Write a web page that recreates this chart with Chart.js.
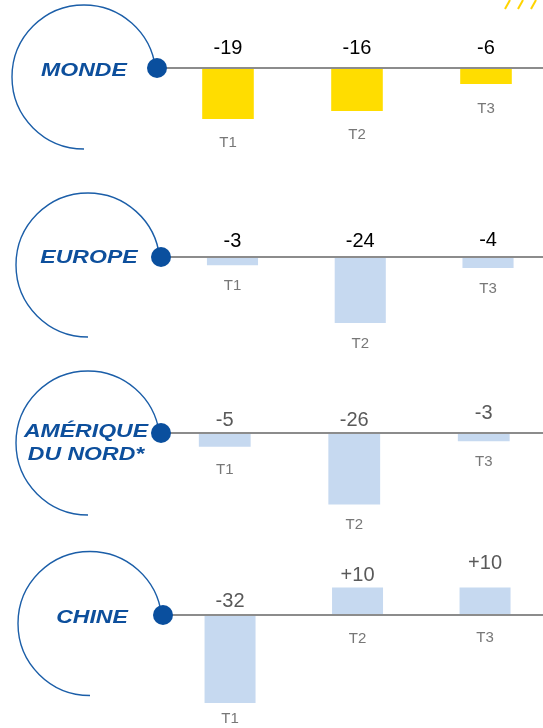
<!DOCTYPE html>
<html>
<head>
<meta charset="utf-8">
<script src="https://cdn.jsdelivr.net/npm/chart.js"></script>
<style>
  html, body { margin: 0; padding: 0; background: #fff; overflow: hidden; }
  #wrap { position: relative; width: 543px; height: 728px; overflow: hidden; }
  #wrap canvas { position: absolute; left: 0; }
</style>
</head>
<body>
<div id="wrap">
  <canvas id="c0" width="560" height="182"></canvas>
  <canvas id="c1" width="560" height="182"></canvas>
  <canvas id="c2" width="560" height="182"></canvas>
  <canvas id="c3" width="560" height="182"></canvas>
</div>
<script>
// data
const quarters = ['T1', 'T2', 'T3'];
const regionNames = [['MONDE'], ['EUROPE'], ['AMÉRIQUE', 'DU NORD*'], ['CHINE']];
const monde = [-19, -16, -6];
const europe = [-3, -24, -4];
const ameriqueNord = [-5, -26, -3];
const chine = [-32, 10, 10];
const seriesByRegion = [monde, europe, ameriqueNord, chine];

// layout / style per panel
const BASE = 68;          // baseline inside each canvas
const H = 182, W = 560;
const panels = [
  { top: 0,   px: 2.68, left: 163.5, right: 550.5, color: '#FFDD00', text: '#000000', dotX: 157, cx: 84, cy: 77,   labelX: 84, labelY: [71],     nudge: [20, 20, 20], tOff: [24, 24, 25] },
  { top: 189, px: 2.75, left: 168.6, right: 551.9, color: '#C6D9F0', text: '#000000', dotX: 161, cx: 88, cy: 76,   labelX: 89, labelY: [69],     nudge: [16, 16, 17], tOff: [21, 21, 21] },
  { top: 365, px: 2.75, left: 160,   right: 548.5, color: '#C6D9F0', text: '#595959', dotX: 161, cx: 88, cy: 78,   labelX: 86, labelY: [67, 90], nudge: [13, 13, 20], tOff: [23, 20, 21] },
  { top: 547, px: 2.75, left: 166.3, right: 548.8, color: '#C6D9F0', text: '#595959', dotX: 163, cx: 90, cy: 76.5, labelX: 92, labelY: [71],     nudge: [14, 12, 24], tOff: [16, 24, 23] }
];

const decoPlugin = {
  id: 'deco',
  afterDatasetsDraw(chart, args, opts) {
    const p = opts.panel;
    const ctx = chart.ctx;
    ctx.save();
    // circle arc
    const r = 72;
    const a0 = Math.atan2(BASE - p.cy, p.dotX - p.cx);
    ctx.beginPath();
    ctx.arc(p.cx, p.cy, r, Math.PI / 2, 2 * Math.PI + a0);
    ctx.strokeStyle = '#1B5EA8';
    ctx.lineWidth = 1.4;
    ctx.stroke();
    // baseline
    ctx.beginPath();
    ctx.moveTo(p.dotX, BASE);
    ctx.lineTo(W, BASE);
    ctx.strokeStyle = '#8C8C8C';
    ctx.lineWidth = 2;
    ctx.stroke();
    // dot
    ctx.beginPath();
    ctx.arc(p.dotX, BASE, 10, 0, 2 * Math.PI);
    ctx.fillStyle = '#0A4F9E';
    ctx.fill();
    // region name
    ctx.fillStyle = '#0D4F9C';
    ctx.font = 'italic bold 18px "Liberation Sans", Arial, sans-serif';
    ctx.textAlign = 'center';
    ctx.textBaseline = 'middle';
    opts.name.forEach((line, i) => {
      ctx.save();
      ctx.translate(p.labelX, p.labelY[i]);
      ctx.scale(1.28, 1);
      ctx.fillText(line, 0, 0);
      ctx.restore();
    });
    // value + quarter labels
    const meta = chart.getDatasetMeta(0);
    const values = chart.data.datasets[0].data;
    const y0 = chart.scales.y.getPixelForValue(0);
    meta.data.forEach((bar, i) => {
      const v = values[i];
      const topY = Math.min(bar.y, y0);
      const botY = Math.max(bar.y, y0);
      ctx.fillStyle = p.text;
      ctx.font = '20px "Liberation Sans", Arial, sans-serif';
      ctx.fillText((v > 0 ? '+' : '') + v, bar.x, topY - p.nudge[i]);
      ctx.fillStyle = '#777777';
      ctx.font = '15px "Liberation Sans", Arial, sans-serif';
      ctx.fillText(chart.data.labels[i], bar.x, botY + p.tOff[i]);
    });
    // yellow hatch, top right
    if (opts.hatch) {
      ctx.strokeStyle = '#FFD400';
      ctx.lineWidth = 2;
      [505, 518, 531].forEach(x => {
        ctx.beginPath();
        ctx.moveTo(x, 9);
        ctx.lineTo(x + 5, 0);
        ctx.stroke();
      });
    }
    ctx.restore();
  }
};

panels.forEach((p, k) => {
  const canvas = document.getElementById('c' + k);
  canvas.style.top = p.top + 'px';
  new Chart(canvas.getContext('2d'), {
    type: 'bar',
    data: {
      labels: quarters,
      datasets: [{
        data: seriesByRegion[k],
        backgroundColor: p.color,
        borderWidth: 0,
        barPercentage: 0.4,
        categoryPercentage: 1
      }]
    },
    options: {
      responsive: false,
      animation: false,
      layout: { padding: { left: p.left, right: W - p.right, top: 0, bottom: 0 } },
      scales: {
        x: { display: false },
        y: { display: false, min: -(H - BASE) / p.px, max: BASE / p.px }
      },
      plugins: {
        legend: { display: false },
        tooltip: { enabled: false },
        deco: { panel: p, name: regionNames[k], hatch: k === 0 }
      }
    },
    plugins: [decoPlugin]
  });
});
</script>
</body>
</html>
